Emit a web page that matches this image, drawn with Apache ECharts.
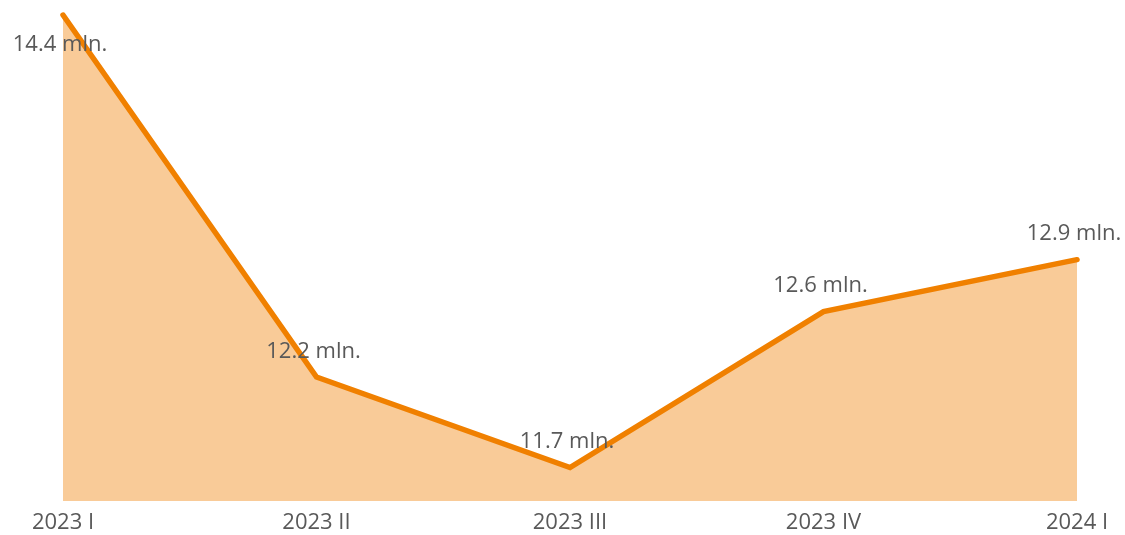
<!DOCTYPE html>
<html><head><meta charset="utf-8">
<script src="https://cdn.jsdelivr.net/npm/echarts@6/dist/echarts.min.js"></script>
<style>html,body{margin:0;padding:0;background:#fff}#c{width:1125px;height:535px}</style>
</head><body><div id="c"></div>
<script>
const categories = ["2023 I", "2023 II", "2023 III", "2023 IV", "2024 I"];
const values = [14.4, 12.24, 11.7, 12.63, 12.94];
const unit = " mln.";

const chart = echarts.init(document.getElementById('c'), null, {renderer: 'canvas'});
const font = "'Open Sans', 'Noto Sans', sans-serif";
chart.setOption({
  animation: false,
  grid: {left: 63, right: 48, top: 15, bottom: 34},
  xAxis: {
    type: 'category', data: categories, boundaryGap: false,
    axisLine: {show: false}, axisTick: {show: false},
    axisLabel: {color: '#595959', fontSize: 22, fontFamily: font, margin: 11}
  },
  yAxis: {type: 'value', min: 11.5, max: 14.4, show: false, splitLine: {show: false}},
  series: [{
    type: 'line',
    data: values.map((v, i) => i === 0 ? {value: v, label: {position: 'bottom', distance: 18}} : v),
    symbol: 'circle', symbolSize: 1, showSymbol: true,
    itemStyle: {color: 'rgba(0,0,0,0)', borderWidth: 0},
    lineStyle: {color: '#F08000', width: 5.5, cap: 'round', join: 'miter'},
    areaStyle: {color: '#F9CB98', opacity: 1},
    label: {
      show: true, position: 'top', distance: 14, offset: [-3, 0],
      color: '#595959', fontSize: 22, fontFamily: font,
      formatter: p => p.value.toFixed(1) + unit
    }
  }]
});
</script></body></html>
